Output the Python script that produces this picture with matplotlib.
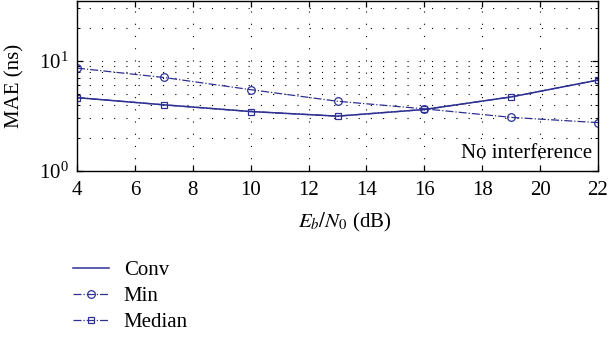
import numpy as np
import matplotlib
matplotlib.use("Agg")
import matplotlib.pyplot as plt
from matplotlib.ticker import LogLocator, NullFormatter

plt.rcParams["font.family"] = ["Liberation Serif", "DejaVu Serif"]
plt.rcParams["mathtext.fontset"] = "stix"
plt.rcParams["font.size"] = 15

# data (MAE in ns)
ebn0 = [4, 7, 10, 13, 16, 19, 22]
mae_conv = [4.64, 3.99, 3.47, 3.15, 3.62, 4.71, 6.70]
mae_min = [8.6, 7.07, 5.48, 4.30, 3.67, 3.07, 2.75]
mae_median = [4.64, 3.99, 3.47, 3.15, 3.62, 4.71, 6.70]

col = "#2e3192"

fig = plt.figure(figsize=(6.1, 3.37), dpi=100)
ax = fig.add_axes([77/610, 1 - 171/337, 521/610, 170/337])

ax.plot(ebn0, mae_conv, "-", color=col, lw=1.1, label="Conv")
ax.plot(ebn0, mae_min, "-.", color=col, lw=0.9, marker="o", ms=5.5,
        mfc="none", mew=0.9, label="Min")
ax.plot(ebn0, mae_median, "-.", color=col, lw=0.9, marker="s", ms=4.5,
        mfc="none", mew=0.9, label="Median")

ax.set_yscale("log")
ax.set_xlim(4, 22)
ax.set_ylim(1, 35)
ax.set_xticks(range(4, 23, 2))
ax.yaxis.set_major_locator(LogLocator(base=10, numticks=5))
ax.yaxis.set_minor_locator(LogLocator(base=10, subs=np.arange(2, 10), numticks=20))
ax.yaxis.set_minor_formatter(NullFormatter())

dots = (0, (1, 10))
ax.grid(True, which="major", axis="both", color="black", lw=0.8, linestyle=dots)
ax.grid(True, which="minor", axis="y", color="black", lw=0.8, linestyle=dots)

ax.tick_params(which="both", direction="in", top=True, right=True, labelsize=15)
ax.tick_params(which="major", length=4, width=0.9)
ax.tick_params(which="minor", length=2.5, width=0.7)
ax.tick_params(axis="x", which="major", pad=7)
ax.tick_params(axis="y", which="major", pad=6)
for s in ax.spines.values():
    s.set_linewidth(1.0)

ax.set_xlabel(r"$E_b/N_0$ (dB)", fontsize=15)
ax.xaxis.set_label_coords(0.514, -0.235)
ax.set_ylabel("MAE (ns)", fontsize=15)
ax.yaxis.set_label_coords(-0.100, 0.5)

ax.text(0.988, 0.105, "No interference", transform=ax.transAxes,
        ha="right", va="center", fontsize=15)

fig.legend(loc="upper left", bbox_to_anchor=(65/610, 1 - 252/337),
           frameon=False, numpoints=1, handlelength=1.7,
           handletextpad=0.72, labelspacing=0.32, borderaxespad=0,
           fontsize=15)

fig.savefig("out.png", dpi=100)
